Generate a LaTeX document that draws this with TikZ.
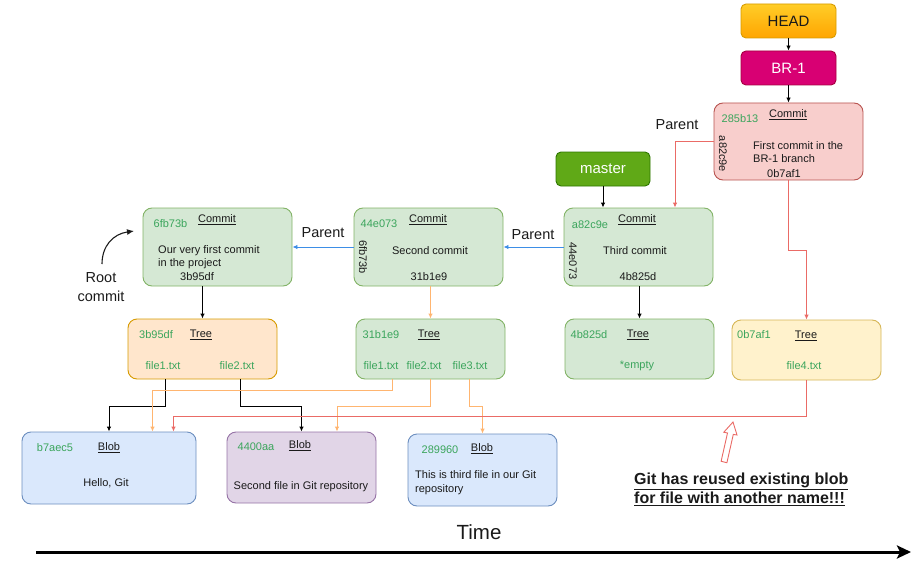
\documentclass[tikz,border=0pt]{standalone}
\usepackage{fontspec}
\setmainfont{Liberation Sans}
\usetikzlibrary{arrows.meta,calc}
\definecolor{txt}{HTML}{1A1A1A}
\definecolor{hashc}{HTML}{3BA55C}
\definecolor{cfill}{HTML}{D5E8D4}
\definecolor{cdraw}{HTML}{82B366}
\definecolor{ofill}{HTML}{FFE6CC}
\definecolor{odraw}{HTML}{D79B00}
\definecolor{yfill}{HTML}{FFF2CC}
\definecolor{ydraw}{HTML}{D6B656}
\definecolor{pfill}{HTML}{F8CECC}
\definecolor{pdraw}{HTML}{B85450}
\definecolor{bfill}{HTML}{DAE8FC}
\definecolor{bdraw}{HTML}{6C8EBF}
\definecolor{vfill}{HTML}{E1D5E7}
\definecolor{vdraw}{HTML}{9673A6}
\definecolor{mfill}{HTML}{60A917}
\definecolor{mdraw}{HTML}{2D7600}
\definecolor{brfill}{HTML}{D80073}
\definecolor{brdraw}{HTML}{A50040}
\definecolor{headtop}{HTML}{FFCD28}
\definecolor{headbot}{HTML}{FFA500}
\definecolor{orangec}{HTML}{FFB570}
\definecolor{redc}{HTML}{EA6B66}
\definecolor{bluec}{HTML}{3D8EE6}
\begin{document}
\begin{tikzpicture}[x=1pt,y=-1pt,
  box/.style={draw, line width=0.9pt, rounded corners=9pt, inner sep=0pt, minimum width=149pt},
  commitbox/.style={box, fill=cfill, draw=cdraw, minimum height=78pt},
  treebox/.style={box, minimum height=60pt},
  blobbox/.style={box, minimum height=72pt},
  refbox/.style={draw, line width=0.9pt, rounded corners=5pt, inner sep=0pt, minimum width=95pt, minimum height=34pt, font=\fontsize{15}{18}\selectfont},
  lbl/.style={inner sep=0pt, font=\fontsize{11}{13}\selectfont, text=txt},
  hash/.style={lbl, text=hashc},
  side/.style={lbl, rotate=-90},
  big/.style={inner sep=0pt, font=\fontsize{14.5}{19}\selectfont, text=txt},
  conn/.style={line width=0.9pt, -{Latex[length=5pt,width=4.5pt]}}
]
\useasboundingbox (0,0) rectangle (923,567);

% ---------- refs ----------
\node[refbox, draw=odraw, top color=headtop, bottom color=headbot, text=txt] (head) at (788.5,21) {HEAD};
\node[refbox, fill=brfill, draw=brdraw, text=white] (br1) at (788.5,68) {BR-1};
\node[refbox, fill=mfill, draw=mdraw, text=white, minimum width=94pt] (master) at (603,169) {master};

% ---------- commits ----------
\node[commitbox] (c1) at (217.5,247) {};
\node[hash] (c1h) at (170.5,224) {6fb73b};
\node[lbl] (c1k) at (217,220) {\underline{Commit}};
\node[lbl, anchor=west, align=left] (c1m) at (158,257.5) {Our very first commit\\in the project};
\node[lbl] (c1t) at (197,277) {3b95df};

\node[commitbox] (c2) at (428.5,247) {};
\node[hash] (c2h) at (379,224) {44e073};
\node[lbl] (c2k) at (428,220) {\underline{Commit}};
\node[side] (c2p) at (363,257) {6fb73b};
\node[lbl] (c2m) at (430,251) {Second commit};
\node[lbl] (c2t) at (429,277) {31b1e9};

\node[commitbox] (c3) at (638.5,247) {};
\node[hash] (c3h) at (590,225) {a82c9e};
\node[lbl] (c3k) at (637,220) {\underline{Commit}};
\node[side] (c3p) at (573,261) {44e073};
\node[lbl] (c3m) at (635,251) {Third commit};
\node[lbl] (c3t) at (638,277) {4b825d};

\node[box, fill=pfill, draw=pdraw, minimum height=77pt] (cb) at (788.5,141.5) {};
\node[hash] (cbh) at (740,119) {285b13};
\node[lbl] (cbk) at (788,115) {\underline{Commit}};
\node[side] (cbp) at (723,154) {a82c9e};
\node[lbl, anchor=west, align=left] (cbm) at (753,152.5) {First commit in the\\BR-1 branch};
\node[lbl] (cbt) at (784,174) {0b7af1};

% ---------- trees ----------
\node[treebox, fill=ofill, draw=odraw] (t1) at (202.5,349) {};
\node[hash] (t1h) at (156,335) {3b95df};
\node[lbl] (t1k) at (201,335) {\underline{Tree}};
\node[hash] (t1a) at (163,366) {file1.txt};
\node[hash] (t1b) at (237,366) {file2.txt};

\node[treebox, fill=cfill, draw=cdraw] (t2) at (430.5,349) {};
\node[hash] (t2h) at (381,335) {31b1e9};
\node[lbl] (t2k) at (429,335) {\underline{Tree}};
\node[hash] (t2a) at (381,366) {file1.txt};
\node[hash] (t2b) at (424,366) {file2.txt};
\node[hash] (t2c) at (470,366) {file3.txt};

\node[treebox, fill=cfill, draw=cdraw] (t3) at (639.5,349) {};
\node[hash] (t3h) at (589,335) {4b825d};
\node[lbl] (t3k) at (638,335) {\underline{Tree}};
\node[hash] (t3a) at (637,366) {*empty};

\node[treebox, fill=yfill, draw=ydraw] (t4) at (806.5,350) {};
\node[hash] (t4h) at (754,335) {0b7af1};
\node[lbl] (t4k) at (806,336) {\underline{Tree}};
\node[hash] (t4a) at (804,366) {file4.txt};

% ---------- blobs ----------
\node[blobbox, fill=bfill, draw=bdraw, minimum width=174pt] (b1) at (109,468) {};
\node[hash] (b1h) at (55,448) {b7aec5};
\node[lbl] (b1k) at (109,448) {\underline{Blob}};
\node[lbl] (b1m) at (106,483) {Hello, Git};

\node[blobbox, fill=vfill, draw=vdraw, minimum height=71pt] (b2) at (301.5,467.5) {};
\node[hash] (b2h) at (256,447) {4400aa};
\node[lbl] (b2k) at (300,446) {\underline{Blob}};
\node[lbl] (b2m) at (301,487) {Second file in Git repository};

\node[blobbox, fill=bfill, draw=bdraw] (b3) at (482.5,470) {};
\node[hash] (b3h) at (440,450) {289960};
\node[lbl] (b3k) at (482,449) {\underline{Blob}};
\node[lbl, anchor=west, align=left, font=\fontsize{11}{14}\selectfont] (b3m) at (415,483) {This is third file in our Git\\repository};

% ---------- labels ----------
\node[big] (p1) at (323,233) {Parent};
\node[big] (p2) at (533,235) {Parent};
\node[big] (p3) at (677,125) {Parent};
\node[big, align=center] (root) at (101,287) {Root\\commit};
\node[inner sep=0pt, font=\fontsize{20.5}{24}\selectfont, text=txt] (time) at (479,532) {Time};
\node[inner sep=0pt, anchor=west, align=left, font=\fontsize{16}{19}\selectfont\bfseries, text=txt] (note) at (634,489.5)
  {\underline{Git has reused existing blob}\\\underline{for file with another name!!!}};

% ---------- connectors ----------
\draw[conn, black] (head.south) -- (br1.north);
\draw[conn, black] (br1.south) -- (cb.north);
\draw[conn, black] (master.south) -- (master.south |- c3.north);
\draw[conn, redc] (cb.west) -| ([xshift=36.5]c3.north);
\draw[conn, redc] (cb.south) -- ++(0,70) -| (t4.north);
\draw[conn, bluec] (c2.west) -- (c1.east);
\draw[conn, bluec] (c3.west) -- (c2.east);
\draw[conn, black] (t1.north |- c1.south) -- (t1.north);
\draw[conn, orangec] (t2.north |- c2.south) -- (t2.north);
\draw[conn, black] (t3.north |- c3.south) -- (t3.north);

\draw[conn, black] ([xshift=-37.5]t1.south) -- ++(0,27) -| (b1.north);
\draw[conn, black] ([xshift=37.5]t1.south) -- ++(0,27) -| (b2.north);
\draw[conn, orangec] ([xshift=-38.5]t2.south) -- ++(0,11) -| ([xshift=43.5]b1.north);
\draw[conn, orangec] (t2.south) -- ++(0,27) -| ([xshift=35.5]b2.north);
\draw[conn, orangec] ([xshift=38.5]t2.south) -- ++(0,27) -| (b3.north);
\draw[conn, redc] (t4.south) -- ++(0,36) -| ([xshift=64.5]b1.north);

% root commit arrow
\coordinate (rs) at (102,264);
\coordinate (re) at (134,231);
\draw[line width=1.1pt, txt, -{Latex[length=7pt,width=6pt]}] (rs) .. controls (102,246) and (113,234) .. (re);

% hollow arrow to the reused blob
\draw[redc, line width=0.9pt, fill=white, line join=miter]
  (721.1,461.3) -- (727.5,433.0) -- (723.8,432.2) -- (733,422) -- (737.0,435.0) -- (733.3,434.4) -- (726.9,462.7) -- cycle;

% time axis
\coordinate (ta) at (36,552);
\coordinate (tb) at (911,552);
\draw[line width=3pt, black, -{Stealth[length=14pt,width=13pt,inset=3pt]}] (ta) -- (tb);
\end{tikzpicture}
\end{document}
